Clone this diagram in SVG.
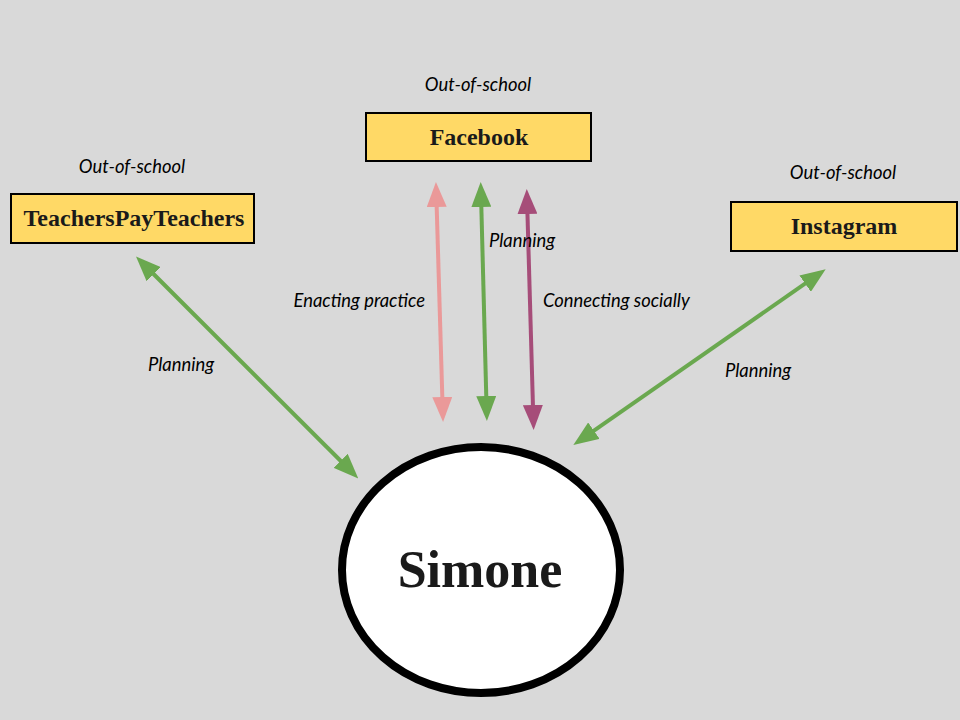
<svg xmlns="http://www.w3.org/2000/svg" width="960" height="720" viewBox="0 0 960 720">
<defs>
<style>
.box{fill:#ffd966;stroke:#000;stroke-width:2}
.name{font-family:"Liberation Serif","Times New Roman",serif;font-weight:bold;font-size:24px;fill:#1a1a1a;text-anchor:middle}
.lbl{font-family:Lato,"Open Sans",sans-serif;font-style:italic;font-size:18.4px;fill:#000}
.ln{fill:none;stroke-width:4}
</style>
<marker id="hg" markerUnits="userSpaceOnUse" markerWidth="25" markerHeight="20" refX="13" refY="10" orient="auto-start-reverse" viewBox="0 0 25 20"><path d="M0,0 L25,10 L0,20 z" fill="#6aa84f"/></marker>
<marker id="hp" markerUnits="userSpaceOnUse" markerWidth="25" markerHeight="20" refX="13" refY="10" orient="auto-start-reverse" viewBox="0 0 25 20"><path d="M0,0 L25,10 L0,20 z" fill="#ea9999"/></marker>
<marker id="hm" markerUnits="userSpaceOnUse" markerWidth="25" markerHeight="20" refX="13" refY="10" orient="auto-start-reverse" viewBox="0 0 25 20"><path d="M0,0 L25,10 L0,20 z" fill="#a64d79"/></marker>
</defs>
<rect width="960" height="720" fill="#d9d9d9"/>
<g id="connectors">
<line class="ln" stroke="#ea9999" x1="436.3" y1="194" x2="442.7" y2="410" marker-start="url(#hp)" marker-end="url(#hp)"/>
<line class="ln" stroke="#6aa84f" x1="481" y1="194" x2="486.6" y2="409" marker-start="url(#hg)" marker-end="url(#hg)"/>
<line class="ln" stroke="#a64d79" x1="527.1" y1="201" x2="533.3" y2="418" marker-start="url(#hm)" marker-end="url(#hm)"/>
<line class="ln" stroke="#6aa84f" x1="144.5" y1="265" x2="349.8" y2="470" marker-start="url(#hg)" marker-end="url(#hg)"/>
<line class="ln" stroke="#6aa84f" x1="815.8" y1="276.2" x2="583.2" y2="438.1" marker-start="url(#hg)" marker-end="url(#hg)"/>
<text class="lbl" x="148" y="371">Planning</text>
<text class="lbl" x="425" y="307" text-anchor="end">Enacting practice</text>
<text class="lbl" x="489" y="247">Planning</text>
<text class="lbl" x="543" y="307">Connecting socially</text>
<text class="lbl" x="725" y="377">Planning</text>
</g>
<g id="facebook">
<text class="lbl" x="478" y="91" text-anchor="middle">Out-of-school</text>
<rect class="box" x="366" y="113" width="225" height="48"/>
<text class="name" x="479" y="145">Facebook</text>
</g>
<g id="teacherspayteachers">
<text class="lbl" x="132" y="173" text-anchor="middle">Out-of-school</text>
<rect class="box" x="11" y="194" width="243" height="49"/>
<text class="name" x="134" y="226">TeachersPayTeachers</text>
</g>
<g id="instagram">
<text class="lbl" x="843" y="179" text-anchor="middle">Out-of-school</text>
<rect class="box" x="731" y="202" width="226" height="49"/>
<text class="name" x="844" y="234">Instagram</text>
</g>
<g id="simone">
<ellipse cx="481" cy="570" rx="139" ry="123" fill="#fff" stroke="#000" stroke-width="8"/>
<text x="480" y="587" font-family="Liberation Serif,'Times New Roman',serif" font-weight="bold" font-size="52" text-anchor="middle" fill="#1a1a1a">Simone</text>
</g>
</svg>
